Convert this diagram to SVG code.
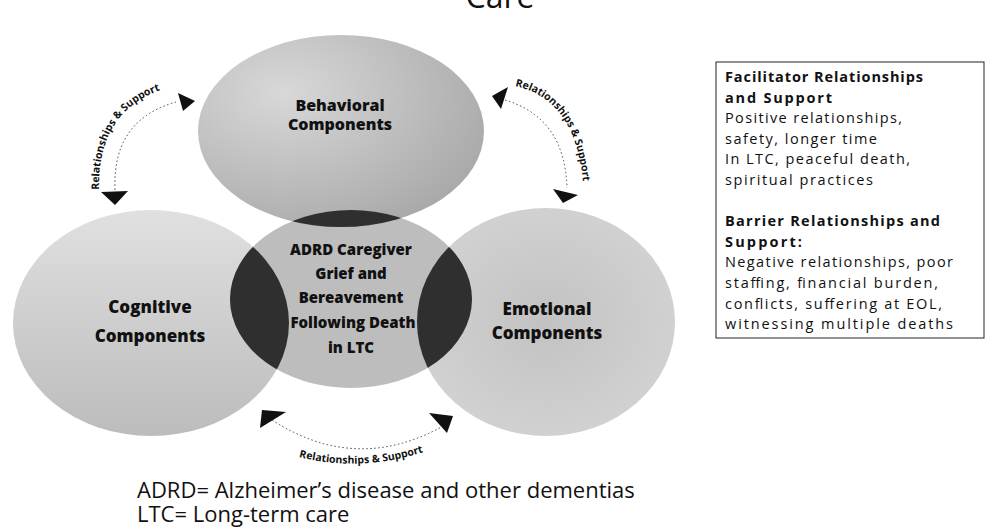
<svg xmlns="http://www.w3.org/2000/svg" width="987" height="527" viewBox="0 0 987 527">
<style>
.lbl{font-family:"Open Sans","Liberation Sans",sans-serif;font-weight:800;fill:#111;text-anchor:middle}
.rs{font-family:"Open Sans","Liberation Sans",sans-serif;font-weight:700;font-size:10.5px;fill:#111}
.dot{fill:none;stroke:#444;stroke-width:1;stroke-dasharray:1.5 2.5}
.ah{fill:#111}
.bx{font-family:"Open Sans","Liberation Sans",sans-serif;font-size:14.5px;fill:#111}
.b{font-weight:700}
.leg{font-family:"Open Sans","Liberation Sans",sans-serif;font-size:22px;fill:#111}
.lens{fill:#2f2f2f}
</style>
<defs>
<radialGradient id="gTop" cx="0.3" cy="0.3" r="0.8"><stop offset="0" stop-color="#d8d8d8"/><stop offset="1" stop-color="#a8a8a8"/></radialGradient>
<linearGradient id="gLeft" x1="0" y1="0" x2="0" y2="1"><stop offset="0" stop-color="#e0e0e0"/><stop offset="1" stop-color="#bcbcbc"/></linearGradient>
<radialGradient id="gRight" cx="0.5" cy="0.5" r="0.6"><stop offset="0" stop-color="#c2c2c2"/><stop offset="1" stop-color="#d4d4d4"/></radialGradient>
<clipPath id="cL"><ellipse cx="151" cy="323" rx="138" ry="113"/></clipPath>
<clipPath id="cR"><ellipse cx="546" cy="322" rx="129" ry="114"/></clipPath>
<clipPath id="cT"><ellipse cx="341" cy="131" rx="143" ry="96"/></clipPath>
<path id="pTL" d="M99,190 Q97,105 174,86"/>
<path id="pTR" d="M515,86 Q580,100 584,196"/>
<path id="pB" d="M282,452 Q360,478 440,446"/>
</defs>

<text x="500" y="8" font-family="Open Sans, Liberation Sans, sans-serif" font-size="32" text-anchor="middle" fill="#111">Care</text>

<g id="cognitive">
<ellipse cx="151" cy="323" rx="138" ry="113" fill="url(#gLeft)"/>
<text class="lbl" font-size="17" x="150" y="313">Cognitive</text>
<text class="lbl" font-size="17" x="150" y="342">Components</text>
</g>

<g id="emotional">
<ellipse cx="546" cy="322" rx="129" ry="114" fill="url(#gRight)"/>
<text class="lbl" font-size="17" x="547" y="315">Emotional</text>
<text class="lbl" font-size="17" x="547" y="339">Components</text>
</g>

<g id="behavioral">
<ellipse cx="341" cy="131" rx="143" ry="96" fill="url(#gTop)"/>
<text class="lbl" font-size="16" x="340" y="111">Behavioral</text>
<text class="lbl" font-size="16" x="340" y="130">Components</text>
</g>

<g id="adrd">
<ellipse cx="351" cy="299" rx="121" ry="89" fill="#bdbdbd"/>
<ellipse class="lens" cx="351" cy="299" rx="121" ry="89" clip-path="url(#cL)"/>
<ellipse class="lens" cx="351" cy="299" rx="121" ry="89" clip-path="url(#cR)"/>
<ellipse class="lens" cx="351" cy="299" rx="121" ry="89" clip-path="url(#cT)" fill="#1e1e1e"/>
<text class="lbl" font-size="15" x="351" y="255">ADRD Caregiver</text>
<text class="lbl" font-size="15" x="351" y="279">Grief and</text>
<text class="lbl" font-size="15" x="351" y="303">Bereavement</text>
<text class="lbl" font-size="15" x="353" y="328">Following Death</text>
<text class="lbl" font-size="15" x="351" y="353">in LTC</text>
</g>

<g id="connectors">
<path class="dot" d="M115,190 Q112,120 176,102"/>
<polygon class="ah" points="178,93 195,101 183,111"/>
<polygon class="ah" points="101,192 128,191 115,205"/>
<text class="rs"><textPath href="#pTL">Relationships &amp; Support</textPath></text>

<path class="dot" d="M505,100 Q565,118 567,188"/>
<polygon class="ah" points="492,96 508,87 501,109"/>
<polygon class="ah" points="553,189 578,195 563,203"/>
<text class="rs"><textPath href="#pTR">Relationships &amp; Support</textPath></text>

<path class="dot" d="M272,420 Q357,475 445,425"/>
<polygon class="ah" points="262,410 286,412 260,428"/>
<polygon class="ah" points="429,413 453,416 447,433"/>
<text class="rs" text-anchor="middle"><textPath href="#pB" startOffset="50%">Relationships &amp; Support</textPath></text>
</g>

<g id="legend-box">
<rect x="716" y="62" width="268" height="276" fill="#fff" stroke="#222" stroke-width="1"/>
<text class="bx b" x="725" y="82" textLength="198" lengthAdjust="spacing">Facilitator Relationships</text>
<text class="bx b" x="725" y="102.6" textLength="107" lengthAdjust="spacing">and Support</text>
<text class="bx" x="725" y="123.2" textLength="177" lengthAdjust="spacing">Positive relationships,</text>
<text class="bx" x="725" y="143.8" textLength="152" lengthAdjust="spacing">safety, longer time</text>
<text class="bx" x="725" y="164.4" textLength="185" lengthAdjust="spacing">In LTC, peaceful death,</text>
<text class="bx" x="725" y="185" textLength="148" lengthAdjust="spacing">spiritual  practices</text>
<text class="bx b" x="725" y="226.2" textLength="215" lengthAdjust="spacing">Barrier Relationships and</text>
<text class="bx b" x="725" y="246.8" textLength="77" lengthAdjust="spacing">Support:</text>
<text class="bx" x="725" y="267.4" textLength="228" lengthAdjust="spacing">Negative relationships,  poor</text>
<text class="bx" x="725" y="288" textLength="213" lengthAdjust="spacing">staffing, financial burden,</text>
<text class="bx" x="725" y="308.6" textLength="217" lengthAdjust="spacing">conflicts, suffering at EOL,</text>
<text class="bx" x="725" y="329.2" textLength="228" lengthAdjust="spacing">witnessing  multiple deaths</text>
</g>

<g id="legend">
<text class="leg" x="137" y="498">ADRD= Alzheimer’s disease and other dementias</text>
<text class="leg" x="137" y="522">LTC= Long-term care</text>
</g>
</svg>
